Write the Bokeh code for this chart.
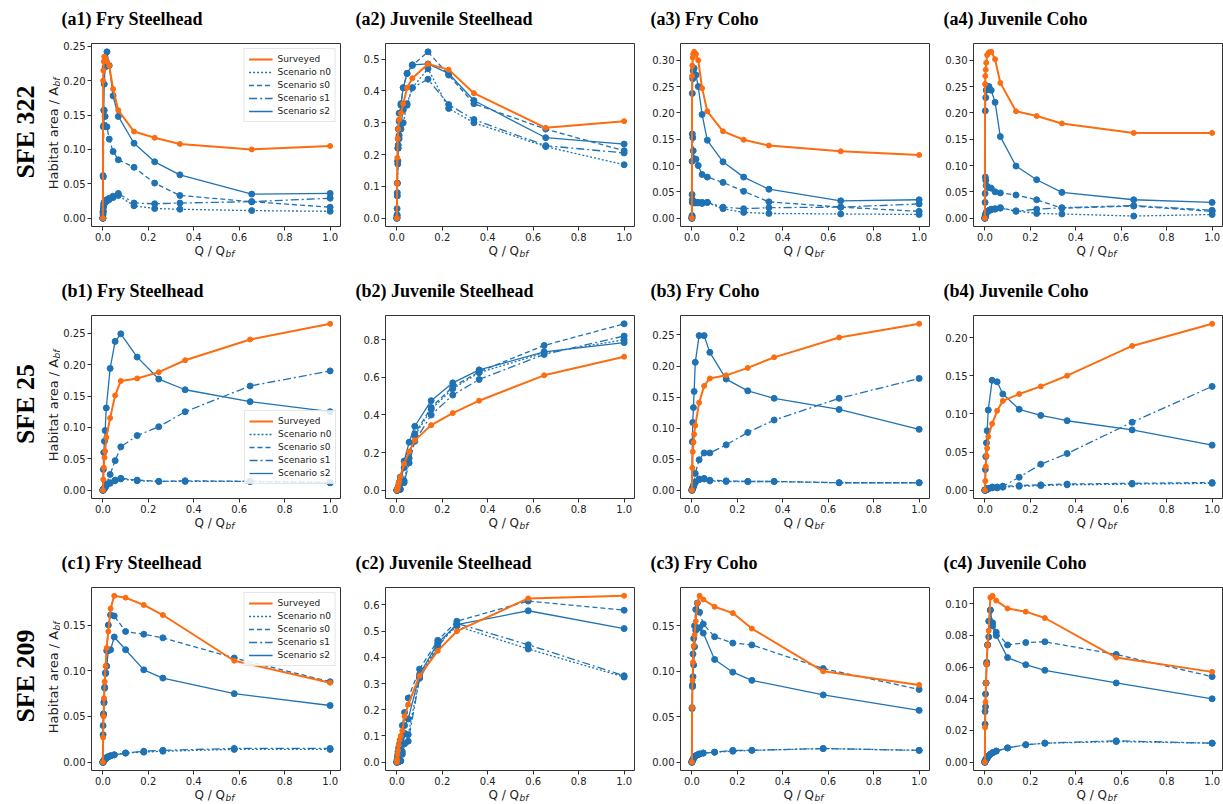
import math
from bokeh.plotting import figure
from bokeh.layouts import column, row
from bokeh.models import Range1d, FixedTicker, NumeralTickFormatter, Label, Legend, LegendItem
from bokeh.embed import file_html
from bokeh.resources import INLINE

# ---------------- data ----------------
x_ticks = [0.0, 0.2, 0.4, 0.6, 0.8, 1.0]
series_names = ["Surveyed", "Scenario n0", "Scenario s0", "Scenario s1", "Scenario s2"]
row_labels = ["SFE 322", "SFE 25", "SFE 209"]
panel_titles = [
    ["(a1) Fry Steelhead", "(a2) Juvenile Steelhead", "(a3) Fry Coho", "(a4) Juvenile Coho"],
    ["(b1) Fry Steelhead", "(b2) Juvenile Steelhead", "(b3) Fry Coho", "(b4) Juvenile Coho"],
    ["(c1) Fry Steelhead", "(c2) Juvenile Steelhead", "(c3) Fry Coho", "(c4) Juvenile Coho"],
]
y_label_main, y_label_sub = "Habitat area / A", "bf"
x_label_main, x_label_sub = "Q / Q", "bf"

# Q / Qbf for each site
x_sfe322 = [0.0, 0.001, 0.002, 0.004, 0.006, 0.01, 0.018, 0.028, 0.045, 0.068, 0.137, 0.228, 0.339, 0.655, 1.0]
x_sfe25 = [0.0, 0.002, 0.004, 0.007, 0.010, 0.015, 0.032, 0.054, 0.079, 0.151, 0.246, 0.362, 0.648, 1.0]
x_sfe209 = [0.0, 0.001, 0.003, 0.005, 0.008, 0.012, 0.017, 0.024, 0.034, 0.050, 0.100, 0.180, 0.264, 0.578, 1.0]

# SFE 322
a1_surveyed = [0.0, 0.200, 0.215, 0.228, 0.235, 0.233, 0.228, 0.222, 0.188, 0.157, 0.126, 0.117, 0.108, 0.100, 0.105]
a1_n0 = [0.0, 0.005, 0.010, 0.018, 0.021, 0.023, 0.025, 0.027, 0.030, 0.033, 0.018, 0.014, 0.013, 0.011, 0.010]
a1_s0 = [0.0, 0.010, 0.060, 0.135, 0.157, 0.148, 0.133, 0.115, 0.097, 0.085, 0.074, 0.051, 0.033, 0.024, 0.016]
a1_s1 = [0.0, 0.008, 0.015, 0.021, 0.023, 0.025, 0.027, 0.029, 0.032, 0.036, 0.022, 0.021, 0.022, 0.024, 0.029]
a1_s2 = [0.0, 0.062, 0.133, 0.157, 0.195, 0.220, 0.242, 0.222, 0.178, 0.148, 0.109, 0.082, 0.063, 0.035, 0.036]
a1_yticks = [0.0, 0.05, 0.10, 0.15, 0.20, 0.25]

a2_surveyed = [0.0, 0.11, 0.19, 0.25, 0.28, 0.31, 0.33, 0.36, 0.41, 0.44, 0.485, 0.467, 0.393, 0.284, 0.305]
a2_n0 = [0.0, 0.005, 0.07, 0.17, 0.22, 0.25, 0.28, 0.30, 0.36, 0.41, 0.47, 0.345, 0.30, 0.225, 0.168]
a2_s0 = [0.0, 0.01, 0.11, 0.22, 0.28, 0.33, 0.36, 0.41, 0.455, 0.48, 0.523, 0.45, 0.36, 0.28, 0.212]
a2_s1 = [0.0, 0.01, 0.08, 0.18, 0.23, 0.26, 0.295, 0.34, 0.355, 0.41, 0.437, 0.357, 0.31, 0.228, 0.205]
a2_s2 = [0.0, 0.03, 0.11, 0.18, 0.25, 0.305, 0.355, 0.41, 0.455, 0.482, 0.485, 0.455, 0.37, 0.253, 0.233]
a2_yticks = [0.0, 0.1, 0.2, 0.3, 0.4, 0.5]

a3_surveyed = [0.0, 0.27, 0.29, 0.305, 0.312, 0.316, 0.312, 0.30, 0.247, 0.203, 0.165, 0.149, 0.138, 0.127, 0.12]
a3_n0 = [0.0, 0.003, 0.030, 0.031, 0.030, 0.029, 0.029, 0.029, 0.028, 0.030, 0.018, 0.011, 0.009, 0.008, 0.007]
a3_s0 = [0.0, 0.045, 0.160, 0.153, 0.128, 0.113, 0.112, 0.100, 0.083, 0.078, 0.068, 0.051, 0.031, 0.021, 0.013]
a3_s1 = [0.0, 0.005, 0.035, 0.033, 0.031, 0.030, 0.030, 0.030, 0.030, 0.030, 0.021, 0.018, 0.020, 0.021, 0.027]
a3_s2 = [0.0, 0.108, 0.237, 0.265, 0.280, 0.285, 0.272, 0.250, 0.197, 0.148, 0.107, 0.078, 0.055, 0.033, 0.035]
a3_yticks = [0.0, 0.05, 0.10, 0.15, 0.20, 0.25, 0.30]

a4_surveyed = [0.0, 0.255, 0.270, 0.282, 0.295, 0.310, 0.315, 0.316, 0.302, 0.257, 0.203, 0.194, 0.180, 0.162, 0.162]
a4_n0 = [0.0, 0.002, 0.004, 0.007, 0.010, 0.012, 0.014, 0.016, 0.017, 0.019, 0.014, 0.009, 0.008, 0.004, 0.007]
a4_s0 = [0.0, 0.030, 0.078, 0.072, 0.062, 0.060, 0.058, 0.057, 0.050, 0.048, 0.044, 0.035, 0.019, 0.023, 0.013]
a4_s1 = [0.0, 0.002, 0.005, 0.008, 0.011, 0.013, 0.015, 0.017, 0.018, 0.020, 0.013, 0.017, 0.020, 0.024, 0.015]
a4_s2 = [0.0, 0.047, 0.204, 0.229, 0.243, 0.250, 0.250, 0.243, 0.220, 0.155, 0.099, 0.073, 0.049, 0.035, 0.030]
a4_yticks = [0.0, 0.05, 0.10, 0.15, 0.20, 0.25, 0.30]

# SFE 25
b1_surveyed = [0.0, 0.017, 0.036, 0.052, 0.062, 0.084, 0.115, 0.151, 0.174, 0.178, 0.188, 0.207, 0.240, 0.265]
b1_n0 = [0.0, 0.001, 0.002, 0.003, 0.004, 0.007, 0.011, 0.015, 0.018, 0.015, 0.014, 0.014, 0.014, 0.012]
b1_s0 = [0.0, 0.001, 0.002, 0.004, 0.005, 0.008, 0.012, 0.016, 0.019, 0.016, 0.014, 0.015, 0.014, 0.012]
b1_s1 = [0.0, 0.001, 0.002, 0.003, 0.005, 0.010, 0.025, 0.047, 0.069, 0.087, 0.101, 0.125, 0.166, 0.190]
b1_s2 = [0.0, 0.033, 0.060, 0.078, 0.095, 0.131, 0.194, 0.237, 0.249, 0.212, 0.177, 0.160, 0.141, 0.125]
b1_yticks = [0.0, 0.05, 0.10, 0.15, 0.20, 0.25]

b2_surveyed = [0.0, 0.005, 0.015, 0.03, 0.045, 0.07, 0.14, 0.205, 0.265, 0.346, 0.41, 0.476, 0.611, 0.71]
b2_n0 = [0.0, 0.0, 0.001, 0.002, 0.003, 0.005, 0.05, 0.17, 0.29, 0.43, 0.54, 0.625, 0.73, 0.80]
b2_s0 = [0.0, 0.003, 0.008, 0.015, 0.03, 0.05, 0.12, 0.20, 0.30, 0.44, 0.55, 0.63, 0.77, 0.885]
b2_s1 = [0.0, 0.0, 0.001, 0.002, 0.003, 0.004, 0.04, 0.145, 0.26, 0.40, 0.506, 0.589, 0.722, 0.82]
b2_s2 = [0.0, 0.005, 0.01, 0.02, 0.04, 0.07, 0.155, 0.255, 0.34, 0.476, 0.571, 0.64, 0.736, 0.785]
b2_yticks = [0.0, 0.2, 0.4, 0.6, 0.8]

b3_surveyed = [0.0, 0.036, 0.062, 0.077, 0.090, 0.104, 0.141, 0.168, 0.180, 0.185, 0.197, 0.214, 0.246, 0.268]
b3_n0 = [0.0, 0.002, 0.004, 0.006, 0.009, 0.012, 0.017, 0.018, 0.015, 0.014, 0.014, 0.014, 0.012, 0.012]
b3_s0 = [0.0, 0.002, 0.004, 0.007, 0.010, 0.013, 0.018, 0.019, 0.016, 0.015, 0.014, 0.014, 0.012, 0.012]
b3_s1 = [0.0, 0.001, 0.003, 0.006, 0.010, 0.027, 0.049, 0.060, 0.060, 0.073, 0.093, 0.113, 0.148, 0.180]
b3_s2 = [0.0, 0.078, 0.109, 0.133, 0.159, 0.206, 0.249, 0.249, 0.222, 0.179, 0.160, 0.148, 0.130, 0.098]
b3_yticks = [0.0, 0.05, 0.10, 0.15, 0.20, 0.25]

b4_surveyed = [0.0, 0.012, 0.031, 0.045, 0.055, 0.070, 0.087, 0.104, 0.117, 0.126, 0.136, 0.150, 0.189, 0.218]
b4_n0 = [0.0, 0.0, 0.0, 0.001, 0.001, 0.002, 0.003, 0.003, 0.004, 0.005, 0.006, 0.007, 0.008, 0.009]
b4_s0 = [0.0, 0.0, 0.001, 0.001, 0.002, 0.002, 0.004, 0.004, 0.005, 0.006, 0.007, 0.008, 0.009, 0.010]
b4_s1 = [0.0, 0.0, 0.001, 0.001, 0.002, 0.002, 0.004, 0.004, 0.005, 0.017, 0.034, 0.048, 0.089, 0.136]
b4_s2 = [0.0, 0.027, 0.044, 0.062, 0.078, 0.105, 0.144, 0.142, 0.126, 0.106, 0.098, 0.091, 0.079, 0.059]
b4_yticks = [0.0, 0.05, 0.10, 0.15, 0.20]

# SFE 209
c1_surveyed = [0.0, 0.027, 0.050, 0.070, 0.088, 0.105, 0.125, 0.143, 0.168, 0.182, 0.180, 0.172, 0.161, 0.111, 0.087]
c1_n0 = [0.0, 0.000, 0.001, 0.002, 0.003, 0.004, 0.005, 0.006, 0.007, 0.008, 0.010, 0.011, 0.012, 0.014, 0.014]
c1_s0 = [0.0, 0.030, 0.052, 0.066, 0.082, 0.098, 0.122, 0.150, 0.161, 0.160, 0.143, 0.140, 0.136, 0.114, 0.088]
c1_s1 = [0.0, 0.000, 0.001, 0.002, 0.003, 0.004, 0.005, 0.006, 0.007, 0.008, 0.010, 0.012, 0.013, 0.015, 0.015]
c1_s2 = [0.0, 0.040, 0.053, 0.065, 0.081, 0.097, 0.105, 0.122, 0.123, 0.137, 0.123, 0.101, 0.092, 0.075, 0.062]
c1_yticks = [0.0, 0.05, 0.10, 0.15]

c2_surveyed = [0.0, 0.01, 0.03, 0.045, 0.065, 0.085, 0.10, 0.12, 0.175, 0.22, 0.33, 0.425, 0.50, 0.625, 0.635]
c2_n0 = [0.0, 0.0, 0.001, 0.002, 0.003, 0.004, 0.005, 0.04, 0.11, 0.105, 0.325, 0.45, 0.52, 0.432, 0.325]
c2_s0 = [0.0, 0.01, 0.025, 0.04, 0.055, 0.07, 0.085, 0.14, 0.19, 0.245, 0.355, 0.465, 0.538, 0.615, 0.58]
c2_s1 = [0.0, 0.0, 0.001, 0.002, 0.003, 0.004, 0.005, 0.03, 0.07, 0.08, 0.32, 0.44, 0.53, 0.448, 0.33]
c2_s2 = [0.0, 0.005, 0.015, 0.03, 0.045, 0.06, 0.075, 0.10, 0.14, 0.165, 0.335, 0.455, 0.525, 0.578, 0.51]
c2_yticks = [0.0, 0.1, 0.2, 0.3, 0.4, 0.5, 0.6]

c3_surveyed = [0.0, 0.060, 0.090, 0.110, 0.128, 0.140, 0.155, 0.175, 0.183, 0.179, 0.171, 0.164, 0.147, 0.100, 0.085]
c3_n0 = [0.0, 0.001, 0.002, 0.003, 0.004, 0.006, 0.007, 0.008, 0.009, 0.010, 0.011, 0.012, 0.013, 0.015, 0.013]
c3_s0 = [0.0, 0.060, 0.085, 0.119, 0.136, 0.150, 0.168, 0.175, 0.165, 0.152, 0.138, 0.131, 0.129, 0.103, 0.080]
c3_s1 = [0.0, 0.001, 0.002, 0.003, 0.005, 0.006, 0.007, 0.008, 0.009, 0.010, 0.011, 0.013, 0.013, 0.015, 0.013]
c3_s2 = [0.0, 0.059, 0.083, 0.094, 0.107, 0.127, 0.145, 0.147, 0.148, 0.142, 0.113, 0.099, 0.090, 0.074, 0.057]
c3_yticks = [0.0, 0.05, 0.10, 0.15]

c4_surveyed = [0.0, 0.022, 0.038, 0.050, 0.062, 0.074, 0.083, 0.104, 0.105, 0.102, 0.097, 0.095, 0.091, 0.066, 0.057]
c4_n0 = [0.0, 0.001, 0.001, 0.002, 0.002, 0.003, 0.004, 0.005, 0.006, 0.007, 0.009, 0.011, 0.012, 0.013, 0.012]
c4_s0 = [0.0, 0.024, 0.035, 0.050, 0.063, 0.074, 0.089, 0.096, 0.088, 0.082, 0.074, 0.0755, 0.076, 0.068, 0.054]
c4_s1 = [0.0, 0.001, 0.001, 0.002, 0.002, 0.003, 0.004, 0.005, 0.006, 0.007, 0.009, 0.011, 0.012, 0.0135, 0.012]
c4_s2 = [0.0, 0.032, 0.043, 0.050, 0.062, 0.074, 0.079, 0.096, 0.086, 0.080, 0.066, 0.0615, 0.058, 0.050, 0.040]
c4_yticks = [0.0, 0.02, 0.04, 0.06, 0.08, 0.10]

panels = [
    [(x_sfe322, [a1_surveyed, a1_n0, a1_s0, a1_s1, a1_s2], a1_yticks, "0.00"),
     (x_sfe322, [a2_surveyed, a2_n0, a2_s0, a2_s1, a2_s2], a2_yticks, "0.0"),
     (x_sfe322, [a3_surveyed, a3_n0, a3_s0, a3_s1, a3_s2], a3_yticks, "0.00"),
     (x_sfe322, [a4_surveyed, a4_n0, a4_s0, a4_s1, a4_s2], a4_yticks, "0.00")],
    [(x_sfe25, [b1_surveyed, b1_n0, b1_s0, b1_s1, b1_s2], b1_yticks, "0.00"),
     (x_sfe25, [b2_surveyed, b2_n0, b2_s0, b2_s1, b2_s2], b2_yticks, "0.0"),
     (x_sfe25, [b3_surveyed, b3_n0, b3_s0, b3_s1, b3_s2], b3_yticks, "0.00"),
     (x_sfe25, [b4_surveyed, b4_n0, b4_s0, b4_s1, b4_s2], b4_yticks, "0.00")],
    [(x_sfe209, [c1_surveyed, c1_n0, c1_s0, c1_s1, c1_s2], c1_yticks, "0.00"),
     (x_sfe209, [c2_surveyed, c2_n0, c2_s0, c2_s1, c2_s2], c2_yticks, "0.0"),
     (x_sfe209, [c3_surveyed, c3_n0, c3_s0, c3_s1, c3_s2], c3_yticks, "0.00"),
     (x_sfe209, [c4_surveyed, c4_n0, c4_s0, c4_s1, c4_s2], c4_yticks, "0.00")],
]

# ---------------- layout / style ----------------
BLUE = "#1f72b4"
ORANGE = "#fc6c10"
DASHES = ["solid", "2 2", "5 3", "8 3 2 3", "solid"]
SANS = "DejaVu Sans"
SERIF = "Liberation Serif"

FW, FH = 250, 183
LEFT_W = 60                 # left strip with row labels and y label
LB = [30, 44, 45, 43]       # left borders of the panel figures
RB = [0, 0, 0, 0]
PT, PB = 4, 18              # panel top / bottom borders
STRIP_H = [39, 67, 67, 15]  # horizontal text strips
MAIN_W = sum(LB) + 4 * FW + sum(RB)
PANEL_H = PT + FH + PB
TOTAL_H = sum(STRIP_H) + 3 * PANEL_H

frame_left = []
acc = 0
for c in range(4):
    frame_left.append(acc + LB[c])
    acc += LB[c] + FW + RB[c]


def blank(width, height):
    p = figure(width=width, height=height, x_range=Range1d(0, width), y_range=Range1d(0, height),
               x_axis_type=None, y_axis_type=None, output_backend="svg", toolbar_location=None,
               min_border=0, min_border_left=0, min_border_right=0, min_border_top=0, min_border_bottom=0)
    p.outline_line_color = None
    p.grid.visible = False
    p.background_fill_color = "white"
    p.border_fill_color = "white"
    return p


def put(p, height, x, y_down, text, **kw):
    p.add_layout(Label(x=x, y=height - y_down, x_units="data", y_units="data", text=text, **kw))


def make_panel(r, c):
    xs, ys_list, yticks, fmt = panels[r][c]
    ymin = min(min(v) for v in ys_list)
    ymax = max(max(v) for v in ys_list)
    pad = 0.05 * (ymax - ymin)
    p = figure(frame_width=FW, frame_height=FH,
               x_range=Range1d(-0.05, 1.05), y_range=Range1d(ymin - pad, ymax + pad),
               output_backend="svg", toolbar_location=None,
               min_border_left=LB[c], min_border_right=RB[c],
               min_border_top=PT, min_border_bottom=PB)
    p.xgrid.visible = False
    p.ygrid.visible = False
    p.outline_line_color = "#333333"
    p.outline_line_width = 1
    p.background_fill_color = "white"
    p.border_fill_color = "white"
    for ax in (p.xaxis[0], p.yaxis[0]):
        ax.axis_line_color = None
        ax.major_tick_out = 4
        ax.major_tick_in = 0
        ax.major_tick_line_color = "#333333"
        ax.minor_tick_line_color = None
        ax.major_label_text_font = SANS
        ax.major_label_text_font_size = "10px"
        ax.major_label_text_color = "#222222"
        ax.major_label_standoff = 2
    p.xaxis[0].ticker = FixedTicker(ticks=x_ticks)
    p.xaxis[0].formatter = NumeralTickFormatter(format="0.0")
    p.yaxis[0].ticker = FixedTicker(ticks=yticks)
    p.yaxis[0].formatter = NumeralTickFormatter(format=fmt)

    line_renderers = {}
    for k in [1, 2, 3, 4]:
        lr = p.line(xs, ys_list[k], line_color=BLUE, line_width=1.3, line_dash=DASHES[k])
        p.scatter(xs, ys_list[k], size=6, color=BLUE)
        line_renderers[k] = lr
    lr = p.line(xs, ys_list[0], line_color=ORANGE, line_width=2)
    p.scatter(xs, ys_list[0], size=5, color=ORANGE)
    line_renderers[0] = lr

    if c == 0:
        items = [LegendItem(label=series_names[k], renderers=[line_renderers[k]]) for k in range(5)]
        loc = "top_right" if r != 1 else (FW - 97, 14)
        leg = Legend(items=items, location=loc)
        leg.label_text_font = SANS
        leg.label_text_font_size = "9px"
        leg.label_text_color = "#222222"
        leg.glyph_width = 24
        leg.glyph_height = 12
        leg.label_height = 12
        leg.spacing = 1
        leg.padding = 4
        leg.margin = 5
        leg.label_standoff = 5
        leg.border_line_color = "#cccccc"
        leg.background_fill_alpha = 0.85
        p.add_layout(leg)
    return p


# horizontal strips: x-axis labels of the row above, panel titles of the row below
strips = []
for s in range(4):
    h = STRIP_H[s]
    sp = blank(MAIN_W, h)
    for c in range(4):
        fl = frame_left[c]
        if s > 0:
            put(sp, h, fl + FW / 2 - 21, 6.5, x_label_main, text_align="left", text_baseline="middle",
                text_font=SANS, text_font_size="12px", text_color="#222222")
            put(sp, h, fl + FW / 2 + 10, 9, x_label_sub, text_align="left", text_baseline="middle",
                text_font=SANS, text_font_size="9px", text_font_style="italic", text_color="#222222")
        if s < 3:
            put(sp, h, fl - 29, h + PT - 25, panel_titles[s][c], text_align="left",
                text_baseline="middle", text_font=SERIF, text_font_size="18px",
                text_font_style="bold", text_color="black")
    strips.append(sp)

# left strip: row labels and y-axis labels
left = blank(LEFT_W, TOTAL_H)
for r in range(3):
    frame_top = sum(STRIP_H[: r + 1]) + r * PANEL_H + PT
    cy = frame_top + FH / 2
    put(left, TOTAL_H, 25, cy - 3, row_labels[r], angle=math.pi / 2, text_align="center",
        text_baseline="middle", text_font=SERIF, text_font_size="26px",
        text_font_style="bold", text_color="black")
    put(left, TOTAL_H, 53, cy + 3, y_label_main, angle=math.pi / 2, text_align="center",
        text_baseline="middle", text_font=SANS, text_font_size="13px", text_color="#222222")
    put(left, TOTAL_H, 56, cy + 3 - 51.5, y_label_sub, angle=math.pi / 2, text_align="left",
        text_baseline="middle", text_font=SANS, text_font_size="9px",
        text_font_style="italic", text_color="#222222")

main_items = [strips[0]]
for r in range(3):
    main_items.append(row(*[make_panel(r, c) for c in range(4)]))
    main_items.append(strips[r + 1])
layout = row(left, column(*main_items))

open("out.html", "w").write(file_html(layout, INLINE))
